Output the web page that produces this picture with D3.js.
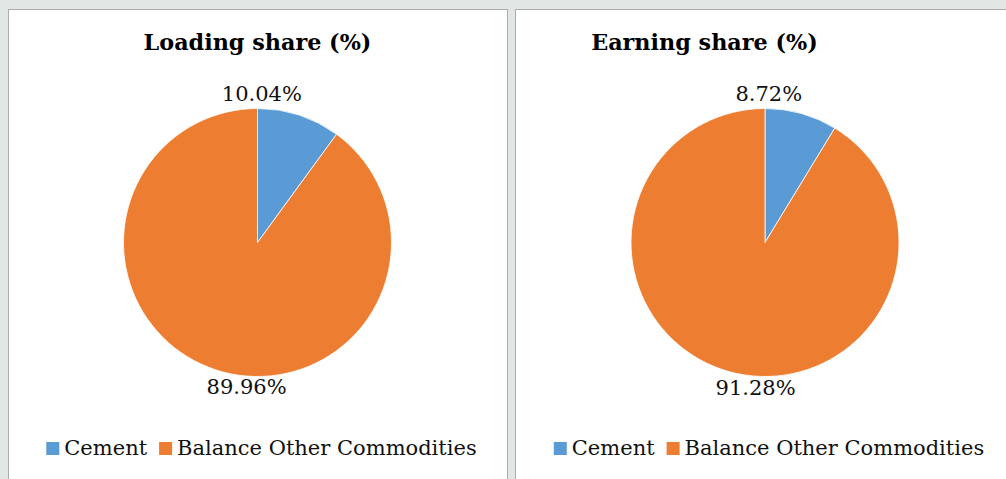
<!DOCTYPE html>
<html>
<head>
<meta charset="utf-8">
<script src="https://cdn.jsdelivr.net/npm/d3@7"></script>
<style>
  html, body { margin: 0; padding: 0; background: #e2e6e5; }
  svg { display: block; font-family: "DejaVu Serif", serif; }
</style>
</head>
<body>
<div id="chart"></div>
<script>
// categories and values
const categories = ["Cement", "Balance Other Commodities"]
const titles = ["Loading share (%)", "Earning share (%)"]
const loadingShare = [10.04, 89.96]
const earningShare = [8.72, 91.28]
const colors = ["#5b9bd5", "#ed7d31"]

const width = 1006
const height = 479

const svg = d3.select("#chart")
    .append("svg")
    .attr("width", width)
    .attr("height", height)

const panels = [
    { x: 8, w: 499, values: loadingShare, title: titles[0], titleX: 257.5 },
    { x: 515, w: 500, values: earningShare, title: titles[1], titleX: 704.5 }
]

const radius = 134
const pie = d3.pie().sort(null).value(d => d)
const arc = d3.arc().innerRadius(0).outerRadius(radius)
const color = d3.scaleOrdinal().domain(categories).range(colors)

panels.forEach(p => {

    const g = svg.append("g")

    g.append("rect")
        .attr("x", p.x + 0.5)
        .attr("y", 9.5)
        .attr("width", p.w)
        .attr("height", height)
        .attr("fill", "#fff")
        .attr("stroke", "#a9acab")

    const cx = p.x + p.w / 2
    const cy = 242.5

    g.append("text")
        .attr("x", p.titleX)
        .attr("y", 50)
        .attr("text-anchor", "middle")
        .attr("font-weight", "bold")
        .attr("font-size", 22.3)
        .attr("fill", "#000")
        .text(p.title)

    const slices = pie(p.values)
    const pg = g.append("g").attr("transform", `translate(${cx},${cy})`)

    pg.selectAll("path")
        .data(slices)
        .enter()
        .append("path")
        .attr("d", arc)
        .attr("fill", (d, i) => color(categories[i]))
        .attr("stroke", "#fff")
        .attr("stroke-width", 0.8)

    // outside-end labels, pulled toward the top / bottom like Excel's best fit
    pg.selectAll("text")
        .data(slices)
        .enter()
        .append("text")
        .each(function(d, i) {
            const mid = (d.startAngle + d.endAngle) / 2
            const a = i === 0 ? mid * 0.1 : Math.PI + (mid - Math.PI) * 0.25
            const [px, py] = d3.pointRadial(a, radius + 4)
            const up = Math.cos(a) > 0
            d3.select(this)
                .attr("x", px)
                .attr("y", up ? py - 11 : py + 7)
                .attr("dy", "0.35em")
        })
        .attr("text-anchor", "middle")
        .attr("font-size", 21)
        .attr("fill", "#111")
        .text(d => d.data.toFixed(2) + "%")

    // legend
    const lg = g.append("g")
    let lx = 0
    categories.forEach((c, i) => {
        lg.append("rect")
            .attr("x", lx)
            .attr("y", 442)
            .attr("width", 13)
            .attr("height", 13)
            .attr("fill", color(c))
        const t = lg.append("text")
            .attr("x", lx + 18)
            .attr("y", 455)
            .attr("font-size", 21)
            .attr("fill", "#111")
            .text(c)
        lx += 18 + t.node().getComputedTextLength() + 12
    })
    const lw = lx - 12
    lg.attr("transform", `translate(${cx + 4 - lw / 2},0)`)
})
</script>
</body>
</html>
